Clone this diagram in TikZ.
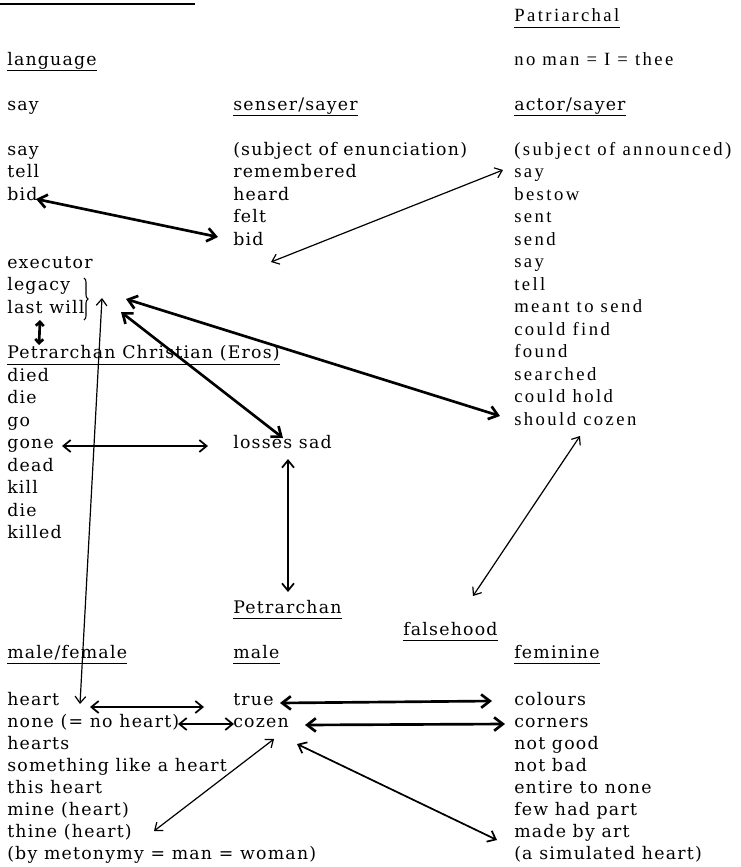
\documentclass[tikz,border=0pt]{standalone}
\usepackage{fontspec}
\setmainfont{DejaVu Serif}[LetterSpace=7]
\newfontfamily\tfont{Liberation Serif}[LetterSpace=13]
\usetikzlibrary{arrows.meta,decorations.pathreplacing}
\newcommand\mfnt{\fontsize{13}{16}\selectfont}
\newcommand\tfnt{\tfont\fontsize{14}{16}\selectfont}
\tikzset{
  txt/.style={anchor=base west, inner sep=0pt, font=\mfnt},
  ttx/.style={anchor=base west, inner sep=0pt, font=\tfnt},
  ulline/.style={line width=0.9pt},
  thinarr/.style={line width=0.9pt, {Straight Barb[length=5pt,width=8pt]}-{Straight Barb[length=5pt,width=8pt]}},
  midarr/.style={line width=1.3pt, {Straight Barb[length=5.5pt,width=9pt]}-{Straight Barb[length=5.5pt,width=9pt]}},
  thickarr/.style={line width=2pt, {Straight Barb[length=6.5pt,width=10pt]}-{Straight Barb[length=6.5pt,width=10pt]}},
  shortarr/.style={line width=2pt, {Straight Barb[length=3pt,width=6pt]}-{Straight Barb[length=3pt,width=6pt]}},
}
\newcommand\ulnode[1]{\draw[ulline] ([yshift=-4pt]#1.base west) -- ([yshift=-4pt]#1.base east);}
\begin{document}
\begin{tikzpicture}[x=0.75pt,y=-0.75pt]
\fill[white] (0,0) rectangle (741,867);
\useasboundingbox (0,0) rectangle (741,867);

% top rule
\draw[line width=1pt] (0,4) -- (195,4);

% ---------- column 1 (top) ----------
\node[txt] (hlang) at (7,65) {language};
\node[txt] (c1say) at (7,110) {say};
\node[txt] (c1sayb) at (7,155) {say};
\node[txt] (c1tell) at (7,177.5) {tell};
\node[txt] (c1bid) at (7,200) {bid};
\node[txt] (exec) at (7,268) {executor};
\node[txt] (legacy) at (7,290.5) {legacy};
\node[txt] (lastwill) at (7,313) {last will};
\node[txt] (pce) at (7,358.5) {Petrarchan Christian (Eros)};
\foreach \t [count=\i] in {died,die,go,gone,dead,kill,die,killed}
  \node[txt] (pc\i) at (7,{381+22.5*(\i-1)}) {\t};

% ---------- column 2 (top) ----------
\node[txt] (hsenser) at (233,110) {senser/sayer};
\node[txt] (subenun) at (233,155) {(subject of enunciation)};
\foreach \t [count=\i] in {remembered,heard,felt,bid}
  \node[txt] (s\i) at (233,{177.5+22.5*(\i-1)}) {\t};
\node[txt] (losses) at (233,448.5) {losses sad};

% ---------- column 3 (top) ----------
\node[ttx] (hpat) at (514,22) {Patriarchal};
\node[ttx] (noman) at (514,65) {no man = I = thee};
\node[txt] (hactor) at (514,110) {actor/sayer};
\node[ttx] (subann) at (514,155) {(subject of announced)};
\foreach \t [count=\i] in {say,bestow,sent,send,say,tell,meant to send,could find,found,searched,could hold,should cozen}
  \node[ttx] (a\i) at (514,{177.5+22.5*(\i-1)}) {\t};

% ---------- bottom ----------
\node[txt] (hpetr) at (233,613) {Petrarchan};
\node[txt] (hfalse) at (403,635) {falsehood};
\node[txt] (hmf) at (7,658) {male/female};
\node[txt] (hmale) at (233,658) {male};
\node[txt] (hfem) at (514,658) {feminine};
\foreach \t [count=\i] in {heart,none (= no heart),hearts,something like a heart,this heart,mine (heart),thine (heart),(by metonymy = man = woman)}
  \node[txt] (m\i) at (7,{705+22.14*(\i-1)}) {\t};
\node[txt] (true) at (233,705) {true};
\node[txt] (cozen) at (233,727.1) {cozen};
\foreach \t [count=\i] in {colours,corners,not good,not bad,entire to none,few had part,made by art,(a simulated heart)}
  \node[txt] (f\i) at (514,{705+22.14*(\i-1)}) {\t};

% underlines
\ulnode{hlang}
\ulnode{hsenser}
\ulnode{hactor}
\ulnode{hpat}
\ulnode{hpetr}
\ulnode{hfalse}
\ulnode{hmf}
\ulnode{hmale}
\ulnode{hfem}
\draw[line width=1.2pt] ([yshift=-4.5pt]pce.base west) -- ([yshift=-4.5pt]pce.base east);

% brace
\draw[line width=0.8pt, decorate, decoration={brace, amplitude=3pt}] (84,278) -- (84,320);

% connector end points
\coordinate (a1) at (36,199);   \coordinate (a2) at (218,237);
\coordinate (b1) at (271,262);  \coordinate (b2) at (503,170);
\coordinate (c1) at (126,299);  \coordinate (c2) at (500,416);
\coordinate (d1) at (121,312);  \coordinate (d2) at (283,438);
\coordinate (e1) at (102,298);  \coordinate (e2) at (80,704);
\coordinate (g1) at (40,320);   \coordinate (g2) at (39,345);
\coordinate (h1) at (288,459);  \coordinate (h2) at (288,592);
\coordinate (i1) at (580,436);  \coordinate (i2) at (473,596);
\coordinate (j1) at (90,707);   \coordinate (j2) at (204,707);
\coordinate (k1) at (178,724);  \coordinate (k2) at (234,724);
\coordinate (l1) at (280,703);  \coordinate (l2) at (492,701);
\coordinate (mm1) at (305,725); \coordinate (mm2) at (505,724);
\coordinate (n1) at (274,739);  \coordinate (n2) at (154,831);
\coordinate (o1) at (297,744);  \coordinate (o2) at (497,840);
\coordinate (q1) at (62,446);   \coordinate (q2) at (208,446);

% connectors
\draw[thickarr] (a1) -- (a2);
\draw[thinarr] (b1) -- (b2);
\draw[thickarr] (c1) -- (c2);
\draw[thickarr] (d1) -- (d2);
\draw[thinarr] (e1) -- (e2);
\draw[shortarr] (g1) -- (g2);
\draw[midarr] (h1) -- (h2);
\draw[thinarr] (i1) -- (i2);
\draw[midarr] (j1) -- (j2);
\draw[midarr] (k1) -- (k2);
\draw[thickarr] (l1) -- (l2);
\draw[thickarr] (mm1) -- (mm2);
\draw[thinarr] (n1) -- (n2);
\draw[midarr] (o1) -- (o2);
\draw[midarr] (q1) -- (q2);
\end{tikzpicture}
\end{document}
